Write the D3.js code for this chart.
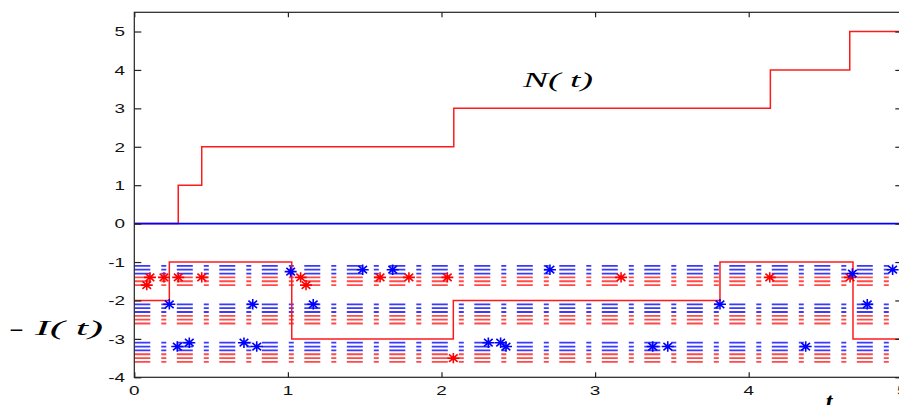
<!DOCTYPE html>
<html>
<head>
<meta charset="utf-8">
<script src="https://cdn.jsdelivr.net/npm/d3@7"></script>
<style>
  html, body { margin: 0; padding: 0; background: #fff; }
  svg { display: block; }
</style>
</head>
<body>
<svg id="chart" width="899" height="405"></svg>
<script>
// ---- data ----
const xTicks = [0, 1, 2, 3, 4, 5];
const yTicks = [-4, -3, -2, -1, 0, 1, 2, 3, 4, 5];
const xTickLabels = ["0", "1", "2", "3", "4", "5"];
const yTickLabels = ["-4", "-3", "-2", "-1", "0", "1", "2", "3", "4", "5"];

// N(t) counting process (step after)
const nTimes  = [0, 0.286, 0.439, 2.08, 4.141, 4.658, 5];
const nValues = [0, 1, 2, 3, 4, 5, 5];

// -I(t) state process (step after)
const iTimes  = [0, 0.228, 1.025, 2.077, 3.813, 4.679, 5];
const iValues = [-2, -1, -3, -2, -1, -3, -3];

// zero reference line
const zeroLine = [0, 5];

// background dash-dot level lines
const blueLevels = [-1.1, -1.2, -1.3, -2.1, -2.2, -2.3, -3.1, -3.2, -3.3];
const redLevels  = [-1.4, -1.5, -1.6, -2.4, -2.5, -2.6, -3.4, -3.5, -3.6];

// star markers
const redStarT = [0.081, 0.102, 0.193, 0.286, 0.439, 1.083, 1.118, 1.6, 1.788, 2.038, 2.077, 3.169, 4.137, 4.66];
const redStarY = [-1.6, -1.4, -1.4, -1.4, -1.4, -1.4, -1.6, -1.4, -1.4, -1.4, -3.5, -1.4, -1.4, -1.4];
const blueStarT = [0.228, 0.28, 0.358, 0.714, 0.771, 0.797, 1.018, 1.165, 1.487, 1.682, 2.305, 2.385, 2.42, 2.706, 3.375, 3.473, 3.813, 4.371, 4.675, 4.772, 4.937];
const blueStarY = [-2.1, -3.2, -3.1, -3.1, -2.1, -3.2, -1.25, -2.1, -1.2, -1.2, -3.1, -3.1, -3.2, -1.2, -3.2, -3.2, -2.1, -3.2, -1.3, -2.1, -1.2];

// ---- layout ----
const plot = { left: 134.3, right: 902.3, top: 12.3, bottom: 377.3 };
const svg = d3.select("#chart");
const x = d3.scaleLinear().domain([0, 5]).range([plot.left, plot.right]);
const y = d3.scaleLinear().domain([-4, 5.5]).range([plot.bottom, plot.top]);

svg.append("defs").append("clipPath").attr("id", "clip")
  .append("rect").attr("x", plot.left).attr("y", plot.top)
  .attr("width", plot.right - plot.left).attr("height", plot.bottom - plot.top);

const g = svg.append("g").attr("clip-path", "url(#clip)");

// background dash-dot lines
function levelLines(levels, color) {
  g.selectAll(null).data(levels).enter().append("line")
    .attr("x1", x(0)).attr("x2", x(5))
    .attr("y1", d => y(d)).attr("y2", d => y(d))
    .attr("stroke", color).attr("stroke-width", 1.8)
    .attr("stroke-dasharray", "16,11,5,10.5");
}
levelLines(blueLevels, "#3a3aff");
levelLines(redLevels, "#ff4a4a");

const step = d3.line().curve(d3.curveStepAfter).x(d => x(d[0])).y(d => y(d[1]));

g.append("path").datum(d3.zip(nTimes, nValues)).attr("d", step)
  .attr("fill", "none").attr("stroke", "#ff1a1a").attr("stroke-width", 1.5);
g.append("path").datum(d3.zip(iTimes, iValues)).attr("d", step)
  .attr("fill", "none").attr("stroke", "#ff1a1a").attr("stroke-width", 1.5);

g.append("line").attr("x1", x(zeroLine[0])).attr("x2", x(zeroLine[1]))
  .attr("y1", y(0)).attr("y2", y(0))
  .attr("stroke", "#0000ff").attr("stroke-width", 1.7);

// asterisk markers
function starPath(rx, ry) {
  const a = rx * 0.72, b = ry * 0.72;
  return `M${-rx},0L${rx},0M0,${-ry}L0,${ry}M${-a},${-b}L${a},${b}M${-a},${b}L${a},${-b}`;
}
function stars(ts, ys, color) {
  g.selectAll(null).data(d3.zip(ts, ys)).enter().append("path")
    .attr("transform", d => `translate(${x(d[0])},${y(d[1])})`)
    .attr("d", starPath(6, 5.2))
    .attr("fill", "none").attr("stroke", color).attr("stroke-width", 1.6);
}
stars(redStarT, redStarY, "#ff0000");
stars(blueStarT, blueStarY, "#0000ff");

// axes box
const axisColor = "#222";
svg.append("rect").attr("x", plot.left).attr("y", plot.top)
  .attr("width", plot.right - plot.left).attr("height", plot.bottom - plot.top)
  .attr("fill", "none").attr("stroke", axisColor).attr("stroke-width", 1.2);

const yAxisL = d3.axisLeft(y).tickValues(yTicks).tickSize(-7).tickFormat(() => "");
const yAxisR = d3.axisRight(y).tickValues(yTicks).tickSize(-7).tickFormat(() => "");
const xAxisB = d3.axisBottom(x).tickValues(xTicks).tickSize(-5).tickFormat(() => "");
const xAxisT = d3.axisTop(x).tickValues(xTicks).tickSize(-5).tickFormat(() => "");
[[yAxisL, `translate(${plot.left},0)`], [yAxisR, `translate(${plot.right},0)`],
 [xAxisB, `translate(0,${plot.bottom})`], [xAxisT, `translate(0,${plot.top})`]].forEach(([ax, tr]) => {
  const a = svg.append("g").attr("transform", tr).call(ax);
  a.select(".domain").remove();
  a.selectAll("line").attr("stroke", axisColor).attr("stroke-width", 1.2);
});

// tick labels (horizontally stretched like the source)
const sx = 1.4;
const tickFont = "Liberation Sans, Arial, sans-serif";
svg.selectAll(null).data(d3.zip(yTicks, yTickLabels)).enter().append("text")
  .attr("transform", d => `translate(125,${y(d[0]) + 4.8}) scale(${sx},1)`)
  .attr("text-anchor", "end").attr("font-family", tickFont).attr("font-size", 13.5)
  .attr("fill", "#111").text(d => d[1]);
svg.selectAll(null).data(d3.zip(xTicks, xTickLabels)).enter().append("text")
  .attr("transform", d => `translate(${x(d[0])},${plot.bottom + 18}) scale(${sx},1)`)
  .attr("text-anchor", "middle").attr("font-family", tickFont).attr("font-size", 13.5)
  .attr("fill", "#111").text(d => d[1]);

// math labels
const serif = "Liberation Serif, Times New Roman, serif";
svg.append("text").attr("x", 523).attr("y", 87)
  .attr("font-family", serif).attr("font-style", "italic").attr("font-size", 22)
  .attr("textLength", 70).attr("lengthAdjust", "spacingAndGlyphs")
  .attr("fill", "#000").text("N( t)");
svg.append("text").attr("x", 9).attr("y", 335)
  .attr("font-family", serif).attr("font-style", "italic").attr("font-size", 22)
  .attr("textLength", 94).attr("lengthAdjust", "spacingAndGlyphs")
  .attr("fill", "#000").text("- I( t)");
svg.append("text").attr("x", 829).attr("y", 409)
  .attr("text-anchor", "middle")
  .attr("font-family", serif).attr("font-style", "italic").attr("font-weight", "bold").attr("font-size", 24)
  .attr("fill", "#000").text("t");
</script>
</body>
</html>
